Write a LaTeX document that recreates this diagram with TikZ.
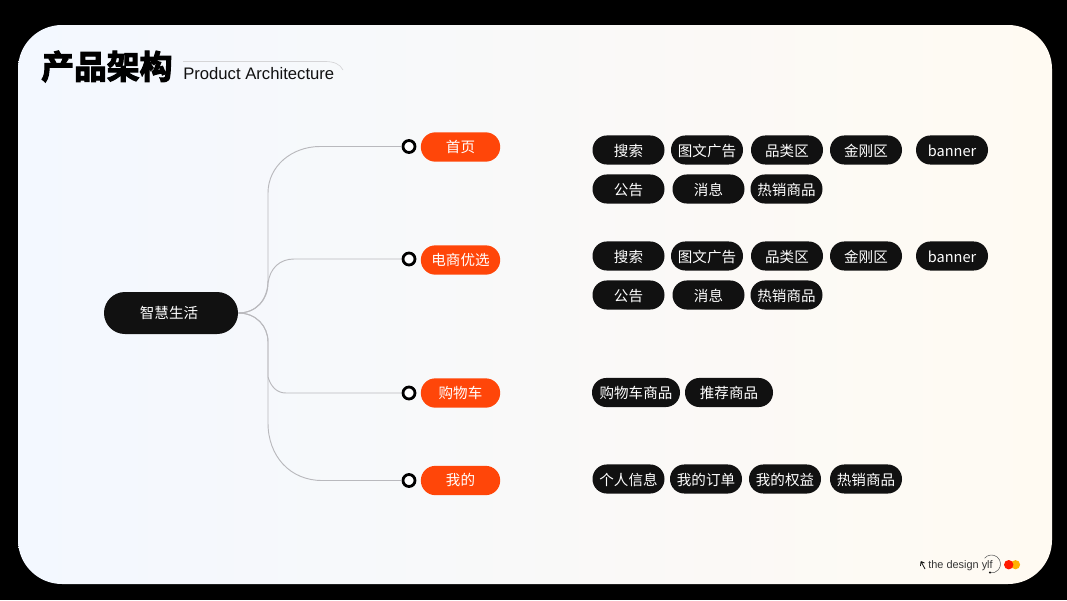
\documentclass[tikz,border=0pt]{standalone}
\usepackage{fontspec}
\setmainfont{Noto Sans CJK SC}
\newfontfamily\titlefont[FakeBold=3.5]{Noto Sans CJK SC Bold}
\newfontfamily\latinfont{Liberation Sans}
\usetikzlibrary{positioning}
\definecolor{chipblack}{HTML}{111111}
\definecolor{pageorange}{HTML}{FF4609}
\definecolor{linkgray}{HTML}{B9B9BD}
\definecolor{paperblue}{HTML}{F3F8FF}
\definecolor{paperpink}{HTML}{FDF7FB}
\definecolor{papercream}{HTML}{FFFAF2}
\tikzset{
  rootpill/.style={fill=chipblack, text=white, rounded corners=15.7pt, minimum width=100.5pt, minimum height=31.5pt, inner sep=0pt, text height=9.3pt, text depth=1.1pt, font=\fontsize{10.9pt}{12pt}\selectfont},
  pagepill/.style={fill=pageorange, text=white, rounded corners=10.9pt, minimum width=59.5pt, minimum height=22pt, inner sep=0pt, text height=9.3pt, text depth=1.1pt, font=\fontsize{10.9pt}{12pt}\selectfont},
  chip/.style={fill=chipblack, text=white, rounded corners=10.8pt, minimum width=54pt, minimum height=21.8pt, inner sep=0pt, text height=10.3pt, text depth=0.7pt, font=\fontsize{10.9pt}{12pt}\selectfont},
  widechip/.style={chip, minimum width=66pt},
  pagedot/.style={circle, draw=black, line width=2.1pt, fill=white, minimum size=9pt, inner sep=0pt},
  link/.style={draw=linkgray, line width=0.7pt}
}
\begin{document}
\begin{tikzpicture}[x=0.75pt, y=-0.75pt]
    \useasboundingbox (0, 0) rectangle (1067, 600);
    % Fundo
    \fill[black] (0, 0) rectangle (1067, 600);
    \shade[left color=paperblue, middle color=paperpink, right color=papercream, rounded corners=33pt] (18, 25) rectangle (1052, 584);

    % Titulo
    \node[anchor=west, inner sep=0pt, font=\titlefont\fontsize{24.6pt}{26pt}\selectfont] (title) at (41, 66.5) {产品架构};
    \node[anchor=west, inner sep=0pt, font=\latinfont\fontsize{12.5pt}{14pt}\selectfont, text=chipblack] (subtitle) at (183, 73.5) {Product Architecture};
    \coordinate (titleline) at (183, 61.5);
    \draw[linkgray!60, line width=0.5pt] (titleline) -- (325, 61.5) .. controls (334, 61.5) and (340, 64) .. (343, 70);

    % Raiz
    \node[rootpill] (root) at (171, 313) {\kern-3pt 智慧生活};

    % Paginas
    \node[pagepill] (home) at (460.5, 147) {首页};
    \node[pagepill] (shop) at (460.5, 260) {电商优选};
    \node[pagepill] (cart) at (460.5, 393) {购物车};
    \node[pagepill] (mine) at (460.5, 480.5) {我的};

    % Pontos
    \node[pagedot] (homedot) at (409, 146.5) {};
    \node[pagedot] (shopdot) at (409, 259) {};
    \node[pagedot] (cartdot) at (409, 393) {};
    \node[pagedot] (minedot) at (409, 480.5) {};

    % Ligacoes
    \draw[link] (root.east) .. controls (256, 313) and (268, 300) .. (268, 280) -- (268, 193) .. controls (268, 166) and (292, 146.5) .. (320, 146.5) -- (homedot.west);
    \draw[link] (root.east) .. controls (256, 313) and (268, 300) .. (268, 283) .. controls (270, 268) and (280, 259) .. (294, 259) -- (shopdot.west);
    \draw[link] (root.east) .. controls (256, 313) and (268, 326) .. (268, 342) -- (268, 377) .. controls (271, 387) and (277, 393) .. (286, 393) -- (cartdot.west);
    \draw[link] (root.east) .. controls (256, 313) and (268, 326) .. (268, 342) -- (268, 423) .. controls (268, 456) and (290, 480.5) .. (322, 480.5) -- (minedot.west);

    % Primeira pagina
    \node[chip] (homesearch) at (628.5, 150) {搜索};
    \node[chip] (homeads) at (707, 150) {图文广告};
    \node[chip] (homecat) at (787, 150) {品类区};
    \node[chip] (homekong) at (866, 150) {金刚区};
    \node[chip] (homebanner) at (952, 150) {banner};
    \node[chip] (homenotice) at (628.5, 189) {公告};
    \node[chip] (homemsg) at (708.5, 189) {消息};
    \node[chip] (homehot) at (786.5, 189) {热销商品};

    % Segunda pagina
    \node[chip] (shopsearch) at (628.5, 256) {搜索};
    \node[chip] (shopads) at (707, 256) {图文广告};
    \node[chip] (shopcat) at (787, 256) {品类区};
    \node[chip] (shopkong) at (866, 256) {金刚区};
    \node[chip] (shopbanner) at (952, 256) {banner};
    \node[chip] (shopnotice) at (628.5, 295) {公告};
    \node[chip] (shopmsg) at (708.5, 295) {消息};
    \node[chip] (shophot) at (786.5, 295) {热销商品};

    % Carrinho
    \node[widechip] (cartgoods) at (636, 392.5) {购物车商品};
    \node[widechip] (cartrec) at (729, 392.5) {推荐商品};

    % Minha pagina
    \node[chip] (mineinfo) at (628.5, 479) {个人信息};
    \node[chip] (mineorder) at (706, 479) {我的订单};
    \node[chip] (minerights) at (785, 479) {我的权益};
    \node[chip] (minehot) at (866, 479) {热销商品};

    % Rodape
    \node[anchor=west, inner sep=0pt, font=\latinfont\fontsize{8.2pt}{10pt}\selectfont, text=chipblack!85] (credit) at (928, 566) {the design ylf};
    \draw[chipblack, line width=0.6pt] (921, 561.5) -- (925, 569) (921, 561.5) -- (920.5, 566) (921, 561.5) -- (924.5, 563);
    \draw[chipblack!70, line width=0.4pt] (984.6, 558.2) arc[start angle=-140, end angle=100, radius=9];
    \fill[chipblack] (990, 572.5) circle (1.2);
    \fill[orange!60!yellow] (1015.5, 564.7) circle (4.6);
    \fill[red!80!orange] (1008.7, 564.7) circle (4.7);
\end{tikzpicture}
\end{document}
